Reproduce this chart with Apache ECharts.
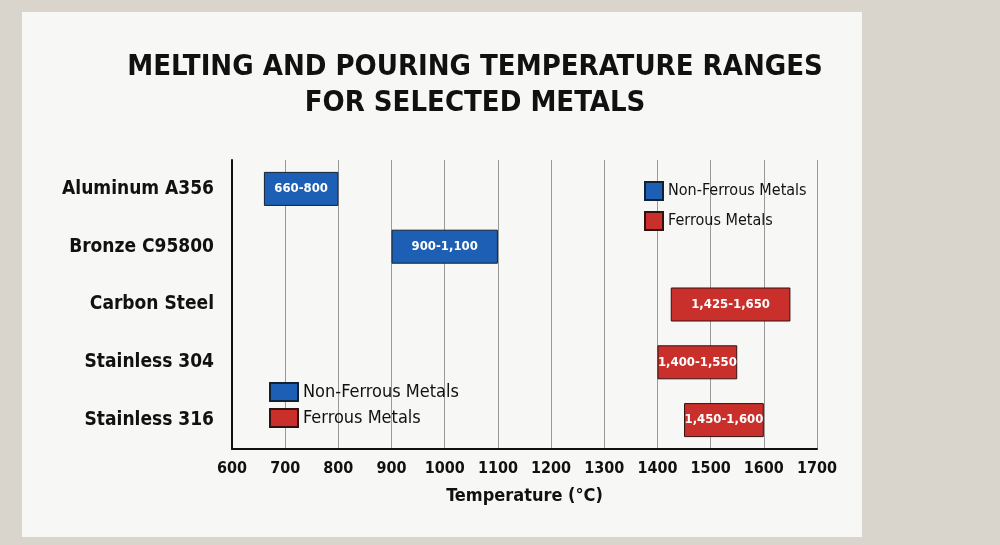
<!DOCTYPE html>
<html><head><meta charset="utf-8">
<script src="https://cdn.jsdelivr.net/npm/echarts@6/dist/echarts.min.js"></script>
<style>
body{margin:0;background:#d9d5cc;}
#main{position:absolute;left:22px;top:12px;width:840px;height:525px;background:#f7f7f5;}
</style></head>
<body>
<div id="main"></div>
<script>
// metals, top to bottom
var metals = ['Aluminum A356', 'Bronze C95800', 'Carbon Steel', 'Stainless 304', 'Stainless 316'];
var low = [660, 900, 1425, 1400, 1450];
var high = [800, 1100, 1650, 1550, 1600];
var ferrous = [false, false, true, true, true];

var font = '"DejaVu Sans Condensed", "Liberation Sans"';
var fmt = function (v) { return v.toLocaleString('en-US'); };
var span = low.map(function (v, i) { return high[i] - v; });
var nonFerrousData = span.map(function (v, i) { return ferrous[i] ? null : v; });
var ferrousData = span.map(function (v, i) { return ferrous[i] ? v : null; });

var rangeLabel = {
    show: true, position: 'inside', color: '#fff', fontSize: 13, fontWeight: 'bold', fontFamily: font,
    formatter: function (p) { return fmt(low[p.dataIndex]) + '-' + fmt(high[p.dataIndex]); }
};

var chart = echarts.init(document.getElementById('main'));
chart.setOption({
    textStyle: { fontFamily: font },
    title: {
        text: 'MELTING AND POURING TEMPERATURE RANGES\nFOR SELECTED METALS',
        left: 448, top: 32, textAlign: 'center',
        textStyle: { fontSize: 29, fontWeight: 'bold', color: '#111', lineHeight: 36, fontFamily: font }
    },
    legend: [
        { data: ['Non-Ferrous Metals', 'Ferrous Metals'], orient: 'vertical', left: 617, top: 164, icon: 'rect',
          itemWidth: 18, itemHeight: 18, itemGap: 10, textStyle: { fontSize: 16, color: '#111', fontFamily: font } },
        { data: ['Non-Ferrous Metals', 'Ferrous Metals'], orient: 'vertical', left: 242, top: 365, icon: 'rect',
          itemWidth: 28, itemHeight: 18, itemGap: 6, textStyle: { fontSize: 18, color: '#111', fontFamily: font } }
    ],
    grid: { left: 210, right: 45, top: 148, bottom: 88 },
    xAxis: {
        type: 'value', min: 600, max: 1700, interval: 100,
        name: 'Temperature (°C)', nameLocation: 'middle', nameGap: 38,
        nameTextStyle: { fontSize: 18, fontWeight: 'bold', color: '#111', fontFamily: font },
        axisLine: { show: true, lineStyle: { color: '#111', width: 2 } },
        axisTick: { show: false },
        axisLabel: { fontSize: 16, fontWeight: 'bold', color: '#111', margin: 12, fontFamily: font,
                     formatter: function (v) { return String(v); } },
        splitLine: { lineStyle: { color: '#999', width: 1 } }
    },
    yAxis: {
        type: 'category', data: metals, inverse: true,
        axisLine: { show: true, lineStyle: { color: '#111', width: 2 } },
        axisTick: { show: false },
        axisLabel: { fontSize: 19, fontWeight: 'bold', color: '#111', margin: 18, fontFamily: font }
    },
    series: [
        { name: 'base', type: 'bar', stack: 'r', data: low, itemStyle: { color: 'transparent' }, silent: true, barWidth: 34 },
        { name: 'Non-Ferrous Metals', type: 'bar', stack: 'r', data: nonFerrousData,
          itemStyle: { color: '#1d5fb4', borderColor: '#123', borderWidth: 1 }, label: rangeLabel },
        { name: 'Ferrous Metals', type: 'bar', stack: 'r', data: ferrousData,
          itemStyle: { color: '#c9302b', borderColor: '#311', borderWidth: 1 }, label: rangeLabel }
    ]
});
</script>
</body></html>
